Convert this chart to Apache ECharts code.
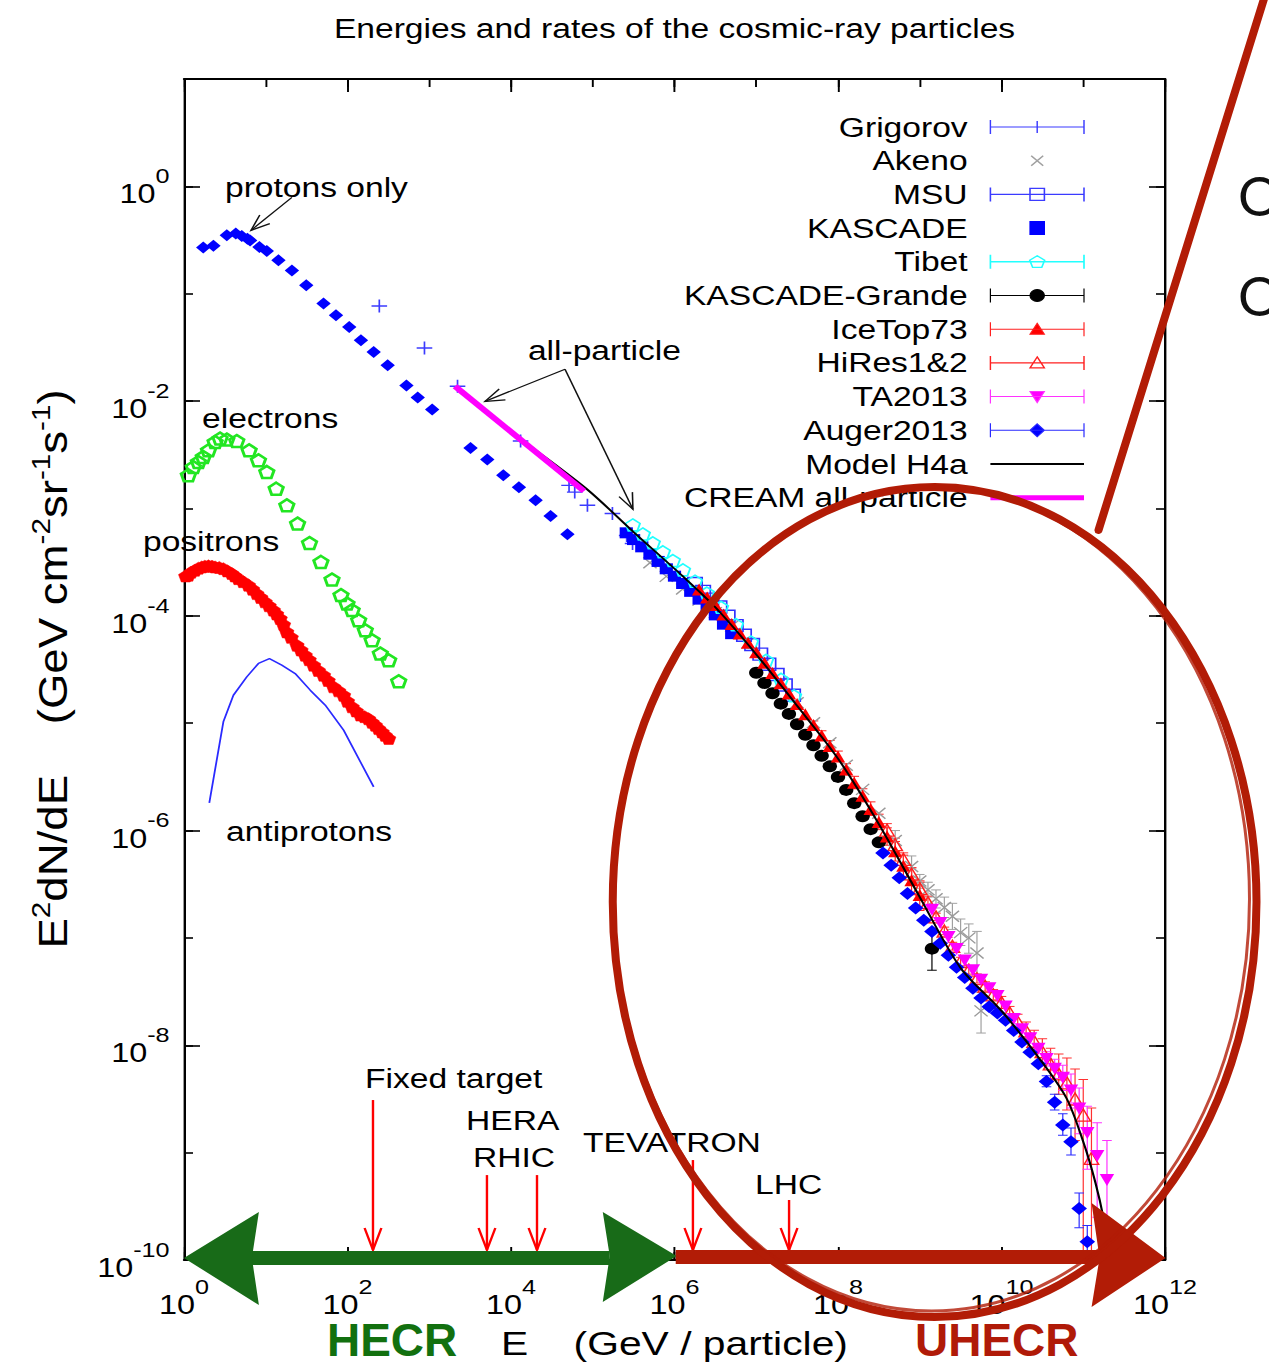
<!DOCTYPE html>
<html>
<head>
<meta charset="utf-8">
<script src="https://cdn.jsdelivr.net/npm/echarts@6/dist/echarts.min.js"></script>
<style>
  html, body { margin: 0; padding: 0; background: #fff; overflow: hidden; }
  /* the figure is drawn narrow and widened horizontally as a whole */
  #chart { width: 1058px; height: 1368px; transform: scaleX(1.2); transform-origin: 0 0; }
</style>
</head>
<body>
<div id="chart"></div>
<script>
const S = 1.2;                                   // horizontal widening of the figure
const FONT = '"Liberation Sans", Arial, Helvetica, sans-serif';
const px = v => v / S;                           // page x -> canvas x

// ---------- measurements: E in GeV/particle, flux E^2 dN/dE in GeV cm^-2 sr^-1 s^-1 ----------
const protonE = [1.72, 2.29, 3.34, 4.30, 5.09, 5.97, 6.44, 8.37, 10.3, 14.3, 20.9, 31.3, 50.9, 72.3, 105, 146, 209, 310, 526, 723, 1086, 3199, 5126, 8054, 1.25e4, 2.0e4, 3.05e4, 4.9e4];
const protonFlux = [0.269, 0.280, 0.350, 0.363, 0.344, 0.326, 0.314, 0.272, 0.250, 0.205, 0.165, 0.120, 0.0809, 0.0630, 0.0490, 0.0368, 0.0286, 0.0216, 0.0140, 0.0108, 0.00833, 0.00366, 0.00285, 0.00204, 0.00158, 0.00119, 0.000851, 0.000575];

const electronE = [1.13, 1.30, 1.50, 1.72, 1.99, 2.40, 2.76, 3.34, 4.42, 6.26, 8.14, 10.3, 13.4, 18.1, 24.5, 34.3, 47.3, 64.6, 83.2, 98.6, 114, 137, 165, 200, 252, 319, 423];
const electronFlux = [2.04e-3, 2.43e-3, 2.71e-3, 3.02e-3, 3.48e-3, 4.16e-3, 4.48e-3, 4.38e-3, 4.25e-3, 3.48e-3, 2.81e-3, 2.19e-3, 1.53e-3, 1.07e-3, 7.23e-4, 4.77e-4, 3.18e-4, 2.18e-4, 1.56e-4, 1.30e-4, 1.13e-4, 9.10e-5, 7.34e-5, 5.93e-5, 4.46e-5, 3.86e-5, 2.46e-5];

const positronE = [1.05, 1.13, 1.22, 1.36, 1.50, 1.65, 1.80, 1.99, 2.2, 2.40, 2.7, 3.03, 3.4, 3.84, 4.2, 4.63, 5.3, 6.14, 6.9, 7.78, 8.7, 9.83, 11.0, 12.4, 13.6, 15.0, 16.5, 18.1, 20.5, 24.1, 27, 30.4, 34, 38.5, 44, 50.9, 58, 67.6, 78, 89.6, 100, 114, 128, 144, 162, 181, 200, 219, 240, 265, 290, 319];
const positronFlux = [2.35e-4, 2.39e-4, 2.55e-4, 2.66e-4, 2.78e-4, 2.85e-4, 2.90e-4, 2.92e-4, 2.90e-4, 2.85e-4, 2.82e-4, 2.75e-4, 2.62e-4, 2.48e-4, 2.35e-4, 2.22e-4, 2.08e-4, 1.93e-4, 1.77e-4, 1.61e-4, 1.48e-4, 1.35e-4, 1.24e-4, 1.13e-4, 1.04e-4, 9.44e-5, 8.3e-5, 7.08e-5, 6.3e-5, 5.32e-5, 4.8e-5, 4.30e-5, 3.9e-5, 3.47e-5, 3.1e-5, 2.80e-5, 2.5e-5, 2.18e-5, 2.0e-5, 1.82e-5, 1.6e-5, 1.42e-5, 1.3e-5, 1.19e-5, 1.15e-5, 1.10e-5, 1.02e-5, 9.58e-6, 8.9e-6, 8.29e-6, 7.7e-6, 7.20e-6];

const antiprotonE = [2.04, 3.03, 4.02, 5.86, 8.14, 11.1, 15.7, 22.9, 35.0, 53.5, 89.6, 209];
const antiprotonFlux = [1.81e-6, 1.03e-5, 1.82e-5, 2.70e-5, 3.60e-5, 4.00e-5, 3.47e-5, 2.90e-5, 2.03e-5, 1.47e-5, 8.61e-6, 2.55e-6];

const grigorovE = [245, 874, 2218, 1.31e4, 5.13e4, 6.02e4, 8.61e4, 1.74e5, 2.6e5, 3.07e5];
const grigorovFlux = [0.0768, 0.0312, 0.01374, 4.25e-3, 1.64e-3, 1.42e-3, 1.07e-3, 8.96e-4, 5.6e-4, 4.71e-4];

const akenoE = [5.01e5, 7.94e5, 1.26e6, 2.0e6, 3.16e6, 5.01e6, 7.94e6, 1.26e7, 2.0e7, 3.16e7, 5.01e7, 7.94e7, 1.26e8, 2.0e8, 3.16e8, 5.01e8, 7.94e8, 1e9, 1.26e9, 1.58e9, 2.0e9, 2.51e9, 3.16e9, 3.98e9, 5.01e9, 5.62e9];
const akenoFlux = [3.12e-4, 2.33e-4, 1.78e-4, 1.40e-4, 1.07e-4, 8.02e-5, 5.60e-5, 3.66e-5, 2.41e-5, 1.55e-5, 1.01e-5, 6.58e-6, 4.06e-6, 2.42e-6, 1.45e-6, 8.09e-7, 4.63e-7, 3.39e-7, 2.81e-7, 2.32e-7, 1.92e-7, 1.59e-7, 1.12e-7, 1.00e-7, 7.24e-8, 2.09e-8];
const akenoLo = [null, null, null, null, null, null, null, null, null, null, null, null, null, null, null, 6.5e-7, 3.7e-7, 2.9e-7, 2.4e-7, 1.9e-7, 1.55e-7, 1.2e-7, 8.5e-8, 7.2e-8, 4.6e-8, 1.3e-8];
const akenoHi = [null, null, null, null, null, null, null, null, null, null, null, null, null, null, null, 1.0e-6, 5.8e-7, 3.9e-7, 3.3e-7, 2.8e-7, 2.4e-7, 2.1e-7, 1.5e-7, 1.35e-7, 1.15e-7, 3.1e-8];

const msuE = [1.78e6, 2.24e6, 2.82e6, 3.55e6, 4.47e6, 5.62e6, 7.08e6, 8.91e6, 1.12e7, 1.41e7, 1.78e7, 2.24e7, 2.82e7];
const msuFlux = [2.0e-4, 1.69e-4, 1.43e-4, 1.21e-4, 9.9e-5, 8.1e-5, 6.6e-5, 5.4e-5, 4.4e-5, 3.54e-5, 2.84e-5, 2.27e-5, 1.82e-5];

const kascadeE = [2.57e5, 3.16e5, 3.98e5, 5.01e5, 6.31e5, 7.94e5, 1e6, 1.26e6, 1.58e6, 2e6, 2.51e6, 3.16e6, 3.98e6, 5.01e6];
const kascadeFlux = [5.93e-4, 5.13e-4, 4.39e-4, 3.75e-4, 3.21e-4, 2.74e-4, 2.34e-4, 2.00e-4, 1.69e-4, 1.43e-4, 1.21e-4, 1.02e-4, 8.36e-5, 6.82e-5];

const tibetE = [3.09e5, 4.10e5, 5.43e5, 7.21e5, 9.55e5, 1.27e6, 1.78e6, 2.49e6, 3.71e6, 5.65e6, 8.63e6, 1.32e7, 2.01e7, 2.90e7];
const tibetFlux = [7.03e-4, 5.79e-4, 4.79e-4, 3.95e-4, 3.27e-4, 2.68e-4, 2.10e-4, 1.63e-4, 1.20e-4, 8.28e-5, 5.70e-5, 3.85e-5, 2.56e-5, 1.80e-5];

const grandeE = [1e7, 1.26e7, 1.58e7, 2.0e7, 2.51e7, 3.16e7, 3.98e7, 5.01e7, 6.31e7, 7.94e7, 1e8, 1.26e8, 1.58e8, 2.0e8, 2.51e8, 3.16e8, 1.41e9];
const grandeFlux = [2.95e-5, 2.37e-5, 1.90e-5, 1.52e-5, 1.22e-5, 9.77e-6, 7.80e-6, 6.22e-6, 4.97e-6, 3.96e-6, 3.16e-6, 2.39e-6, 1.80e-6, 1.36e-6, 1.03e-6, 7.76e-7, 7.94e-8];
const grandeLo = [null, null, null, null, null, null, null, null, null, null, null, null, null, null, null, null, 5.0e-8];
const grandeHi = [null, null, null, null, null, null, null, null, null, null, null, null, null, null, null, null, 1.17e-7];

const icetopE = [2e6, 2.51e6, 3.16e6, 3.98e6, 5.01e6, 6.31e6, 7.94e6, 1e7, 1.26e7, 1.58e7, 2e7, 2.51e7, 3.16e7, 3.98e7, 5.01e7, 6.31e7, 7.94e7, 1e8, 1.26e8, 1.58e8, 2e8, 2.51e8, 3.16e8, 3.98e8, 5.01e8, 6.31e8, 7.94e8, 1e9];
const icetopFlux = [1.76e-4, 1.48e-4, 1.26e-4, 1.03e-4, 8.39e-5, 6.85e-5, 5.60e-5, 4.57e-5, 3.66e-5, 2.94e-5, 2.36e-5, 1.89e-5, 1.51e-5, 1.21e-5, 9.64e-6, 7.69e-6, 6.14e-6, 4.90e-6, 3.70e-6, 2.79e-6, 2.11e-6, 1.59e-6, 1.20e-6, 8.79e-7, 6.43e-7, 4.70e-7, 3.44e-7, 2.51e-7];
const icetopLo = [null, null, null, null, null, null, null, null, null, null, null, null, null, null, 8.9e-6, 7.0e-6, 5.5e-6, 4.4e-6, 3.3e-6, 2.45e-6, 1.85e-6, 1.38e-6, 1.02e-6, 7.3e-7, 5.2e-7, 3.7e-7, 2.6e-7, 1.8e-7];
const icetopHi = [null, null, null, null, null, null, null, null, null, null, null, null, null, null, 1.05e-5, 8.5e-6, 6.9e-6, 5.5e-6, 4.2e-6, 3.2e-6, 2.45e-6, 1.85e-6, 1.42e-6, 1.06e-6, 7.9e-7, 5.9e-7, 4.5e-7, 3.4e-7];

const hiresE = [3.98e8, 5.01e8, 6.31e8, 7.94e8, 1e9, 1.26e9, 1.58e9, 2.0e9, 2.51e9, 3.16e9, 3.98e9, 5.01e9, 6.31e9, 7.94e9, 1e10, 1.26e10, 1.58e10, 2.0e10, 2.51e10, 3.16e10, 3.98e10, 5.01e10, 6.31e10, 7.94e10, 1e11, 1.26e11];
const hiresFlux = [1.01e-6, 7.38e-7, 5.40e-7, 3.94e-7, 2.88e-7, 2.13e-7, 1.57e-7, 1.16e-7, 8.36e-8, 6.03e-8, 5.01e-8, 4.17e-8, 3.55e-8, 2.95e-8, 2.51e-8, 2.01e-8, 1.65e-8, 1.36e-8, 1.09e-8, 8.71e-9, 6.71e-9, 5.41e-9, 4.47e-9, 3.16e-9, 2.24e-9, 8.85e-10];
const hiresLo = [8.8e-7, 6.4e-7, 4.7e-7, 3.4e-7, 2.5e-7, 1.85e-7, 1.45e-7, 1.07e-7, 7.7e-8, 5.5e-8, 4.6e-8, 3.8e-8, 3.2e-8, 2.65e-8, 2.2e-8, 1.75e-8, 1.4e-8, 1.12e-8, 8.6e-9, 6.6e-9, 4.8e-9, 3.5e-9, 2.5e-9, 1.3e-9, 1e-11, 1e-11];
const hiresHi = [1.16e-6, 8.5e-7, 6.2e-7, 4.5e-7, 3.3e-7, 2.45e-7, 1.70e-7, 1.26e-7, 9.1e-8, 6.6e-8, 5.5e-8, 4.6e-8, 3.9e-8, 3.3e-8, 2.85e-8, 2.3e-8, 1.95e-8, 1.65e-8, 1.38e-8, 1.15e-8, 9.4e-9, 8.3e-9, 7.6e-9, 6.0e-9, 4.8e-9, 2.6e-9];

const taE = [1.41e9, 1.78e9, 2.24e9, 2.82e9, 3.55e9, 4.47e9, 5.62e9, 7.08e9, 8.91e9, 1.12e10, 1.41e10, 1.78e10, 2.24e10, 2.82e10, 3.55e10, 4.47e10, 5.62e10, 7.08e10, 8.91e10, 1.12e11, 1.48e11, 1.95e11];
const taFlux = [1.83e-7, 1.38e-7, 1.02e-7, 7.87e-8, 6.17e-8, 5.01e-8, 4.07e-8, 3.39e-8, 2.88e-8, 2.30e-8, 1.76e-8, 1.41e-8, 1.16e-8, 9.29e-9, 7.46e-9, 6.03e-9, 4.98e-9, 3.80e-9, 2.57e-9, 1.52e-9, 9.3e-10, 5.56e-10];
const taLo = [null, null, null, null, null, null, null, null, null, null, null, null, null, null, 6.4e-9, 4.9e-9, 3.8e-9, 2.6e-9, 1.5e-9, 7e-10, 2.5e-10, 1e-11];
const taHi = [null, null, null, null, null, null, null, null, null, null, null, null, null, null, 8.7e-9, 7.4e-9, 6.5e-9, 5.4e-9, 4.0e-9, 2.7e-9, 1.9e-9, 1.3e-9];

const augerE = [3.55e8, 4.47e8, 5.62e8, 7.08e8, 8.91e8, 1.12e9, 1.41e9, 1.78e9, 2.24e9, 2.82e9, 3.55e9, 4.47e9, 5.62e9, 7.08e9, 8.91e9, 1.12e10, 1.41e10, 1.78e10, 2.24e10, 2.82e10, 3.55e10, 4.47e10, 5.62e10, 7.08e10, 8.91e10, 1.12e11];
const augerFlux = [6.19e-7, 4.74e-7, 3.63e-7, 2.59e-7, 1.90e-7, 1.46e-7, 1.15e-7, 8.91e-8, 6.89e-8, 5.32e-8, 4.27e-8, 3.39e-8, 2.75e-8, 2.29e-8, 2.00e-8, 1.71e-8, 1.37e-8, 1.07e-8, 8.59e-9, 6.73e-9, 4.60e-9, 2.95e-9, 1.81e-9, 1.26e-9, 3.02e-10, 1.48e-10];
const augerLo = [null, null, null, null, null, null, null, null, null, null, null, null, null, null, null, null, null, null, null, null, 4.1e-9, 2.5e-9, 1.45e-9, 9.5e-10, 2.0e-10, 1e-11];
const augerHi = [null, null, null, null, null, null, null, null, null, null, null, null, null, null, null, null, null, null, null, null, 5.2e-9, 3.5e-9, 2.3e-9, 1.7e-9, 4.2e-10, 2.1e-10];

const h4aE = [2.14e3, 1.32e4, 8.51e4, 3.16e5, 1.26e6, 3.16e6, 1e7, 3.16e7, 1e8, 3.16e8, 1e9, 3.16e9, 1e10, 3.16e10, 6.31e10, 1e11, 1.41e11, 1.78e11, 2.0e11];
const h4aFlux = [1.38e-2, 4.47e-3, 1.51e-3, 6.03e-4, 2.34e-4, 1.20e-4, 4.37e-5, 1.45e-5, 4.68e-6, 1.15e-6, 2.40e-7, 5.25e-8, 2.09e-8, 6.92e-9, 3.16e-9, 1.26e-9, 5.25e-10, 2.40e-10, 1.32e-10];

const creamE = [2065, 7.82e4];
const creamFlux = [1.374e-2, 1.45e-3];

// text labels placed in data coordinates (left edge, vertical middle)
const labelText = ['protons only', 'electrons', 'positrons', 'antiprotons', 'all-particle', 'Fixed target', 'HERA', 'RHIC', 'TEVATRON', 'LHC'];
const labelE = [3.17, 1.66, 0.315, 3.26, 1.61e4, 164, 2.82e3, 3.43e3, 7.60e4, 9.66e6];
const labelFlux = [0.98, 6.92e-3, 4.95e-4, 9.86e-7, 2.97e-2, 4.95e-9, 2.01e-9, 9.1e-10, 1.23e-9, 5.1e-10];

// black pointer arrows (tail -> head)
const pointerFrom = [[20.9, 0.79], [4.58e4, 1.98e-2], [4.58e4, 1.98e-2]];
const pointerTo = [[6.6, 0.389], [4.81e3, 9.95e-3], [3.1e5, 9.84e-4]];

// accelerator equivalent energies (red arrows)
const colliderE = [205, 5.08e3, 2.08e4, 1.68e6, 2.52e7];
const colliderTop = [3.09e-9, 6.18e-10, 6.18e-10, 8.53e-10, 3.62e-10];
const colliderBottom = [1.24e-10, 1.24e-10, 1.24e-10, 1.24e-10, 1.24e-10];

// ---------- helpers ----------
const lg = Math.log10;
const pts = (E, F) => E.map((e, i) => [lg(e), lg(F[i])]);
const errPts = (E, F, lo, hi) => E.map((e, i) => lo[i] == null ? null : [lg(e), lg(F[i]), lg(lo[i]), lg(hi[i])]).filter(Boolean);

const PENTAGON = 'path://M50,0L97.55,34.55L79.39,90.45L20.61,90.45L2.45,34.55Z';
const PLUS = 'path://M5,0L5,10M0,5L10,5';
const CROSS = 'path://M0,0L10,10M10,0L0,10';
const DOWN_TRI = 'path://M0,0L10,0L5,8.66Z';
const HOLLOW = 'rgba(0,0,0,0)';

function scatter(name, data, symbol, size, fill, stroke, bw) {
  return {
    type: 'scatter', name, data, symbol, symbolSize: size, silent: true,
    itemStyle: { color: fill, borderColor: stroke, borderWidth: bw, opacity: 1 },
    emphasis: { disabled: true }, z: 2
  };
}

function errorBars(name, data, color, cap) {
  return {
    type: 'custom', name, data, clip: true, silent: true, z: 2,
    encode: { x: 0, y: [1, 2, 3] },
    renderItem: (params, api) => {
      const x = api.value(0);
      const a = api.coord([x, api.value(2)]);
      const b = api.coord([x, api.value(3)]);
      const st = { stroke: color, lineWidth: 1 };
      return {
        type: 'group', children: [
          { type: 'line', shape: { x1: a[0], y1: a[1], x2: b[0], y2: b[1] }, style: st },
          { type: 'line', shape: { x1: a[0] - cap, y1: a[1], x2: a[0] + cap, y2: a[1] }, style: st },
          { type: 'line', shape: { x1: b[0] - cap, y1: b[1], x2: b[0] + cap, y2: b[1] }, style: st }
        ]
      };
    }
  };
}

function arrowRender(color, width, headLen, headHalf) {
  return (params, api) => {
    const a = api.coord([api.value(0), api.value(1)]);
    const b = api.coord([api.value(2), api.value(3)]);
    const dx = b[0] - a[0], dy = b[1] - a[1];
    const len = Math.hypot(dx, dy) || 1;
    const ux = dx / len, uy = dy / len;
    const bx = b[0] - ux * headLen, by = b[1] - uy * headLen;
    const st = { stroke: color, lineWidth: width, fill: null };
    return {
      type: 'group', children: [
        { type: 'line', shape: { x1: a[0], y1: a[1], x2: b[0], y2: b[1] }, style: st },
        { type: 'polyline', shape: { points: [[bx - uy * headHalf, by + ux * headHalf], [b[0], b[1]], [bx + uy * headHalf, by - ux * headHalf]] }, style: st }
      ]
    };
  };
}

const expLabel = v => {
  const n = Math.round(v);
  return n % 2 === 0 ? '{b|10}{s|' + n + '}' : '';
};
const tickRich = {
  b: { fontSize: 27, fontFamily: FONT, color: '#000', lineHeight: 42, verticalAlign: 'bottom' },
  s: { fontSize: 21, fontFamily: FONT, color: '#000', lineHeight: 21, verticalAlign: 'top' }
};
const frameLine = { show: true, onZero: false, lineStyle: { color: '#000', width: 2 } };

function axis(dim, pos, interval, tickLen, withLine, extra) {
  const base = dim === 'x' ? { min: 0, max: 12 } : { min: -10, max: 1 };
  return Object.assign({
    type: 'value', position: pos, interval, min: base.min, max: base.max,
    axisLine: withLine ? frameLine : { show: false, onZero: false },
    axisTick: { show: true, inside: true, length: tickLen, lineStyle: { color: '#000', width: 1.6 } },
    axisLabel: { show: false },
    splitLine: { show: false },
    axisPointer: { show: false }
  }, extra || {});
}

// legend symbols: error bar with caps plus the marker, in a 92x16 box
const BOX = 'M0,0M92,16';
const CAPS = 'M14,1L14,15M92,1L92,15M14,8L92,8';
const icon = p => 'path://' + BOX + p;

const option = {
  animation: false,
  backgroundColor: '#fff',
  title: {
    text: 'Energies and rates of the cosmic-ray particles',
    left: px(674.5), top: 13, textAlign: 'center', padding: 0,
    textStyle: { fontSize: 28, fontWeight: 'normal', fontFamily: FONT, color: '#000', lineHeight: 30 }
  },
  grid: { left: px(184), top: 79, width: px(981), height: 1181, containLabel: false },
  legend: {
    orient: 'vertical', align: 'right', right: 1058 - px(1087), top: 113, padding: 0,
    itemWidth: 92, itemHeight: 16, itemGap: 5.7, selectedMode: false,
    textStyle: { fontSize: 28, fontFamily: FONT, color: '#000', lineHeight: 28 },
    data: [
      { name: 'Grigorov', icon: icon(CAPS + 'M53,2L53,14M47,8L59,8'), itemStyle: { color: 'none', borderColor: '#3b3bff', borderWidth: 1.2 } },
      { name: 'Akeno', icon: icon('M48,3L58,13M58,3L48,13'), itemStyle: { color: 'none', borderColor: '#a0a0a0', borderWidth: 1.3 } },
      { name: 'MSU', icon: icon(CAPS + 'M47,2L59,2L59,14L47,14Z'), itemStyle: { color: 'none', borderColor: '#3b3bff', borderWidth: 1.3 } },
      { name: 'KASCADE', icon: icon('M47,1.5L59,1.5L59,14.5L47,14.5Z'), itemStyle: { color: '#0000ff', borderColor: '#0000ff', borderWidth: 1 } },
      { name: 'Tibet', icon: icon(CAPS + 'M53,2L59.2,6.5L56.8,13.6L49.2,13.6L46.8,6.5Z'), itemStyle: { color: 'none', borderColor: '#22ffff', borderWidth: 1.4 } },
      { name: 'KASCADE-Grande', icon: icon(CAPS + 'M47,8A6,6 0 1 0 59,8A6,6 0 1 0 47,8Z'), itemStyle: { color: '#000', borderColor: '#000', borderWidth: 1 } },
      { name: 'IceTop73', icon: icon(CAPS + 'M53,2L59,13L47,13Z'), itemStyle: { color: '#ff0000', borderColor: '#ff2020', borderWidth: 1 } },
      { name: 'HiRes1&2', icon: icon(CAPS + 'M53,2L59,13L47,13Z'), itemStyle: { color: 'none', borderColor: '#ff2020', borderWidth: 1.2 } },
      { name: 'TA2013', icon: icon(CAPS + 'M47,3L59,3L53,14Z'), itemStyle: { color: '#ff00ff', borderColor: '#ff33ff', borderWidth: 1 } },
      { name: 'Auger2013', icon: icon(CAPS + 'M53,1.5L59,8L53,14.5L47,8Z'), itemStyle: { color: '#0000ff', borderColor: '#2a2aff', borderWidth: 1 } },
      { name: 'Model H4a', icon: icon('M14,8L92,8'), itemStyle: { color: 'none', borderColor: '#000', borderWidth: 1.8 } },
      { name: 'CREAM all-particle', icon: icon('M14,8L92,8'), itemStyle: { color: 'none', borderColor: '#ff00ff', borderWidth: 5 } }
    ]
  },
  xAxis: [
    axis('x', 'bottom', 2, 13, true, {
      axisLabel: { show: true, margin: 16, formatter: expLabel, rich: tickRich },
      name: 'E    (GeV / particle)', nameLocation: 'middle', nameGap: 66,
      nameTextStyle: { fontSize: 34, fontFamily: FONT, color: '#000' }
    }),
    axis('x', 'bottom', 1, 8, false),
    axis('x', 'top', 2, 13, true),
    axis('x', 'top', 1, 8, false)
  ],
  yAxis: [
    axis('y', 'left', 2, px(16), true, {
      axisLabel: { show: true, margin: 12, formatter: expLabel, rich: tickRich }
    }),
    axis('y', 'left', 1, px(9), false),
    axis('y', 'right', 2, px(16), true),
    axis('y', 'right', 1, px(9), false)
  ],
  series: [
    scatter('protons only', pts(protonE, protonFlux), 'diamond', 12, '#0000ff', '#0000ff', 0),
    scatter('electrons', pts(electronE, electronFlux), PENTAGON, 12, HOLLOW, '#22e622', 2.5),
    scatter('positrons', pts(positronE, positronFlux), PENTAGON, 12, '#ff0000', '#ff0000', 0.5),
    { type: 'line', name: 'antiprotons', data: pts(antiprotonE, antiprotonFlux), symbol: 'none', silent: true,
      lineStyle: { color: '#2a2aff', width: 1.5 }, itemStyle: { color: '#2a2aff' }, z: 2 },

    scatter('Grigorov', pts(grigorovE, grigorovFlux), PLUS, 13, HOLLOW, '#3b3bff', 1.4),
    errorBars('Akeno', errPts(akenoE, akenoFlux, akenoLo, akenoHi), '#a0a0a0', 4),
    scatter('Akeno', pts(akenoE, akenoFlux), CROSS, 11, HOLLOW, '#9a9a9a', 1.3),
    scatter('MSU', pts(msuE, msuFlux), 'rect', 12, HOLLOW, '#3030ff', 1.4),
    scatter('KASCADE', pts(kascadeE, kascadeFlux), 'rect', 11, '#0000ff', '#0000ff', 0),
    scatter('Tibet', pts(tibetE, tibetFlux), PENTAGON, 12, HOLLOW, '#22ffff', 1.6),
    errorBars('KASCADE-Grande', errPts(grandeE, grandeFlux, grandeLo, grandeHi), '#000', 4),
    scatter('KASCADE-Grande', pts(grandeE, grandeFlux), 'circle', 12, '#000', '#000', 0),
    errorBars('IceTop73', errPts(icetopE, icetopFlux, icetopLo, icetopHi), '#ff2020', 4),
    scatter('IceTop73', pts(icetopE, icetopFlux), 'triangle', 12, '#ff0000', '#ff0000', 0),
    errorBars('HiRes1&2', errPts(hiresE, hiresFlux, hiresLo, hiresHi), '#ff3030', 4),
    scatter('HiRes1&2', pts(hiresE, hiresFlux), 'triangle', 12, HOLLOW, '#ff2020', 1.3),
    errorBars('TA2013', errPts(taE, taFlux, taLo, taHi), '#ff33ff', 4),
    scatter('TA2013', pts(taE, taFlux), DOWN_TRI, 12, '#ff00ff', '#ff00ff', 0),
    errorBars('Auger2013', errPts(augerE, augerFlux, augerLo, augerHi), '#2a2aff', 4),
    scatter('Auger2013', pts(augerE, augerFlux), 'diamond', 13, '#0000ff', '#0000ff', 0),

    { type: 'line', name: 'Model H4a', data: pts(h4aE, h4aFlux), smooth: 0.3, symbol: 'none', silent: true,
      lineStyle: { color: '#000', width: 1.8 }, itemStyle: { color: '#000' }, z: 3 },
    { type: 'line', name: 'CREAM all-particle', data: pts(creamE, creamFlux), symbol: 'none', silent: true,
      lineStyle: { color: '#ff00ff', width: 5.5 }, itemStyle: { color: '#ff00ff' }, z: 3 },

    { type: 'custom', name: 'labels', silent: true, z: 5, clip: false,
      data: labelE.map((e, i) => [lg(e), lg(labelFlux[i])]),
      renderItem: (params, api) => {
        const p = api.coord([api.value(0), api.value(1)]);
        return { type: 'text', x: p[0], y: p[1],
          style: { text: labelText[params.dataIndex], fontSize: 28, fontFamily: FONT, fill: '#000', align: 'left', verticalAlign: 'middle' } };
      } },
    { type: 'custom', name: 'pointers', silent: true, z: 5, clip: false, encode: { x: [0, 2], y: [1, 3] },
      data: pointerFrom.map((f, i) => [lg(f[0]), lg(f[1]), lg(pointerTo[i][0]), lg(pointerTo[i][1])]),
      renderItem: arrowRender('#111', 1.3, 16, 6) },
    { type: 'custom', name: 'accelerators', silent: true, z: 5, clip: false, encode: { x: [0, 2], y: [1, 3] },
      data: colliderE.map((e, i) => [lg(e), lg(colliderTop[i]), lg(e), lg(colliderBottom[i])]),
      renderItem: arrowRender('#ff0000', 2, 22, 7) }
  ],
  // page-pixel layer: the vertical axis title and the hand-drawn marks on top of the figure
  graphic: [{
    type: 'group', scaleX: 1 / S, silent: true,
    children: [
      { type: 'text', z: 50, x: 53, y: 669, rotation: Math.PI / 2, scaleX: 1.14,
        style: { text: 'E{s|2}dN/dE    (GeV cm{s|-2}sr{s|-1}s{s|-1})', fontSize: 40, fontFamily: FONT, fill: '#000',
          lineHeight: 50, align: 'center', verticalAlign: 'middle',
          rich: { s: { fontSize: 26, fontFamily: FONT, fill: '#000', lineHeight: 26, verticalAlign: 'top' } } } },
      { type: 'rect', z: 100, shape: { x: 250, y: 1251, width: 360, height: 14 }, style: { fill: '#186b18' } },
      { type: 'polygon', z: 100, shape: { points: [[184, 1258], [259, 1212], [252, 1258], [259, 1305]] }, style: { fill: '#186b18' } },
      { type: 'polygon', z: 100, shape: { points: [[677, 1256], [603, 1212], [610, 1256], [603, 1302]] }, style: { fill: '#186b18' } },
      { type: 'rect', z: 100, shape: { x: 676, y: 1250, width: 425, height: 14 }, style: { fill: '#b21c06' } },
      { type: 'polygon', z: 100, shape: { points: [[1166, 1258], [1092, 1203], [1100, 1258], [1092, 1307]] }, style: { fill: '#b21c06' } },
      { type: 'ellipse', z: 100, shape: { cx: 935, cy: 902, rx: 322, ry: 415 }, style: { fill: 'none', stroke: '#b21c06', lineWidth: 8 } },
      { type: 'ellipse', z: 100, shape: { cx: 932, cy: 899, rx: 318, ry: 412 }, style: { fill: 'none', stroke: '#b21c06', lineWidth: 3, opacity: 0.8 } },
      { type: 'line', z: 100, shape: { x1: 1099, y1: 530, x2: 1266, y2: -6 }, style: { stroke: '#b21c06', lineWidth: 8, lineCap: 'round' } },
      { type: 'text', z: 100, x: 327, y: 1340, style: { text: 'HECR', fontSize: 46, fontWeight: 'bold', fontFamily: FONT, fill: '#12700f', align: 'left', verticalAlign: 'middle' } },
      { type: 'text', z: 100, x: 915, y: 1340, style: { text: 'UHECR', fontSize: 46, fontWeight: 'bold', fontFamily: FONT, fill: '#b01a08', align: 'left', verticalAlign: 'middle' } },
      { type: 'text', z: 100, x: 1238, y: 195, style: { text: 'O', fontSize: 54, fontFamily: 'Lato, "Noto Sans", sans-serif', fill: '#111', align: 'left', verticalAlign: 'middle' } },
      { type: 'text', z: 100, x: 1238, y: 295, style: { text: 'O', fontSize: 54, fontFamily: 'Lato, "Noto Sans", sans-serif', fill: '#111', align: 'left', verticalAlign: 'middle' } }
    ]
  }]
};

const chart = echarts.init(document.getElementById('chart'), null, { renderer: 'svg' });
chart.setOption(option);
</script>
</body>
</html>
